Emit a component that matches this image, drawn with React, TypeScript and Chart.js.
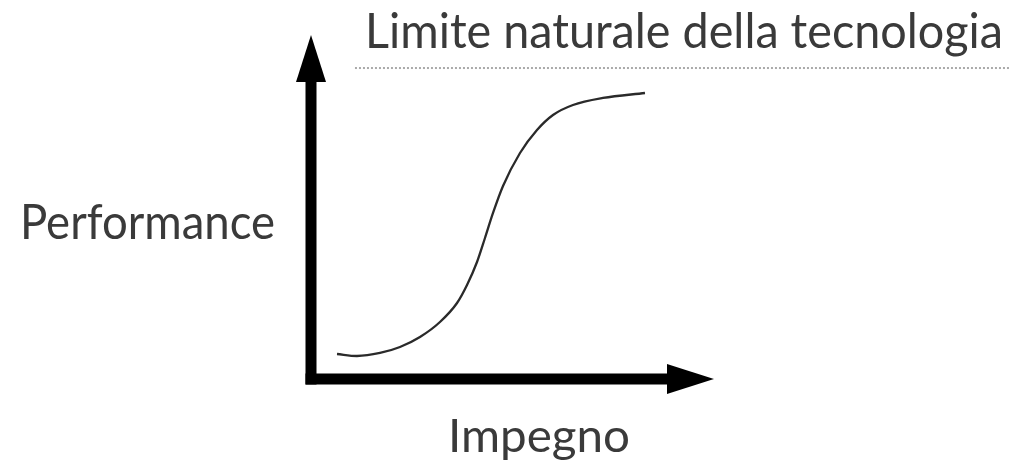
import React, { useEffect, useRef } from "react";
import { Chart, registerables } from "chart.js";

Chart.register(...registerables);

// S-curve (effort vs performance), data units 0..100
const effortValues = [3.72, 6.58, 9.87, 12.73, 15.59, 18.45, 20.89, 22.32, 23.75, 24.89, 26.04, 27.47, 29.9, 32.33, 34.62, 37.48, 41.77, 47.78];
const performanceValues = [7.27, 6.69, 7.56, 9.3, 12.21, 16.57, 22.09, 27.33, 34.01, 40.99, 48.26, 56.1, 65.7, 72.38, 76.74, 79.65, 81.69, 83.14];

// Natural technology limit (dotted line)
const limitX = [6.29, 100];
const limitY = [90.4, 90.4];

// Axis extents (data units)
const axisXEnd = 57.65;
const axisYEnd = 100;

const titleText = "Limite naturale della tecnologia";
const yAxisLabel = "Performance";
const xAxisLabel = "Impegno";

const FONT = "Lato, 'Open Sans', sans-serif";

function drawFit(ctx: CanvasRenderingContext2D, text: string, left: number, baseline: number, width: number, size: number) {
  ctx.save();
  ctx.font = `${size}px ${FONT}`;
  ctx.textBaseline = "alphabetic";
  ctx.textAlign = "left";
  const w = ctx.measureText(text).width;
  ctx.translate(left, baseline);
  ctx.scale(width / w, 1);
  ctx.fillStyle = "#3a3a3a";
  ctx.fillText(text, 0, 0);
  ctx.restore();
}

const overlayPlugin = {
  id: "sCurveOverlay",
  afterDatasetsDraw(chart: any) {
    const { ctx, scales } = chart;
    const x = scales.x;
    const y = scales.y;
    const ox = x.getPixelForValue(0);
    const oy = y.getPixelForValue(0);
    const xEnd = x.getPixelForValue(axisXEnd);
    const yEnd = y.getPixelForValue(axisYEnd);
    const lw = 11;
    const headLen = 47;
    const headHalf = 15;

    ctx.save();
    ctx.fillStyle = "#000";
    // vertical shaft
    ctx.fillRect(ox - lw / 2, yEnd + headLen - 1, lw, oy + lw / 2 - (yEnd + headLen - 1));
    // horizontal shaft
    ctx.fillRect(ox - lw / 2, oy - lw / 2, xEnd - headLen + 1 - (ox - lw / 2), lw);
    // vertical arrowhead
    ctx.beginPath();
    ctx.moveTo(ox, yEnd);
    ctx.lineTo(ox - headHalf, yEnd + headLen);
    ctx.lineTo(ox + headHalf, yEnd + headLen);
    ctx.closePath();
    ctx.fill();
    // horizontal arrowhead
    ctx.beginPath();
    ctx.moveTo(xEnd, oy);
    ctx.lineTo(xEnd - headLen, oy - headHalf);
    ctx.lineTo(xEnd - headLen, oy + headHalf);
    ctx.closePath();
    ctx.fill();
    ctx.restore();

    drawFit(ctx, titleText, 365, 48, 638, 48);
    drawFit(ctx, yAxisLabel, 20, 239, 255, 48);
    drawFit(ctx, xAxisLabel, 448, 452, 182, 46);
  },
};

export default function App() {
  const ref = useRef<HTMLCanvasElement | null>(null);

  useEffect(() => {
    if (!ref.current) return;
    const chart = new Chart(ref.current, {
      type: "line",
      data: {
        datasets: [
          {
            label: "Curva",
            data: effortValues.map((v, i) => ({ x: v, y: performanceValues[i] })),
            borderColor: "#2a2a2a",
            borderWidth: 2.3,
            pointRadius: 0,
            tension: 0.4,
            cubicInterpolationMode: "monotone",
            fill: false,
          },
          {
            label: "Limite",
            data: limitX.map((v, i) => ({ x: v, y: limitY[i] })),
            borderColor: "#aaaaaa",
            borderWidth: 2,
            borderDash: [2, 2],
            pointRadius: 0,
            fill: false,
          },
        ],
      },
      options: {
        responsive: false,
        animation: false,
        layout: { padding: { left: 311, right: 8, top: 35, bottom: 84 } },
        plugins: { legend: { display: false }, tooltip: { enabled: false }, title: { display: false } },
        scales: {
          x: { type: "linear", min: 0, max: 100, display: false },
          y: { type: "linear", min: 0, max: 100, display: false },
        },
      },
      plugins: [overlayPlugin],
    } as any);
    return () => chart.destroy();
  }, []);

  return (
    <div style={{ position: "absolute", left: 0, top: 0, width: 1018, height: 463, background: "#fff" }}>
      <canvas ref={ref} width={1018} height={463} />
    </div>
  );
}
